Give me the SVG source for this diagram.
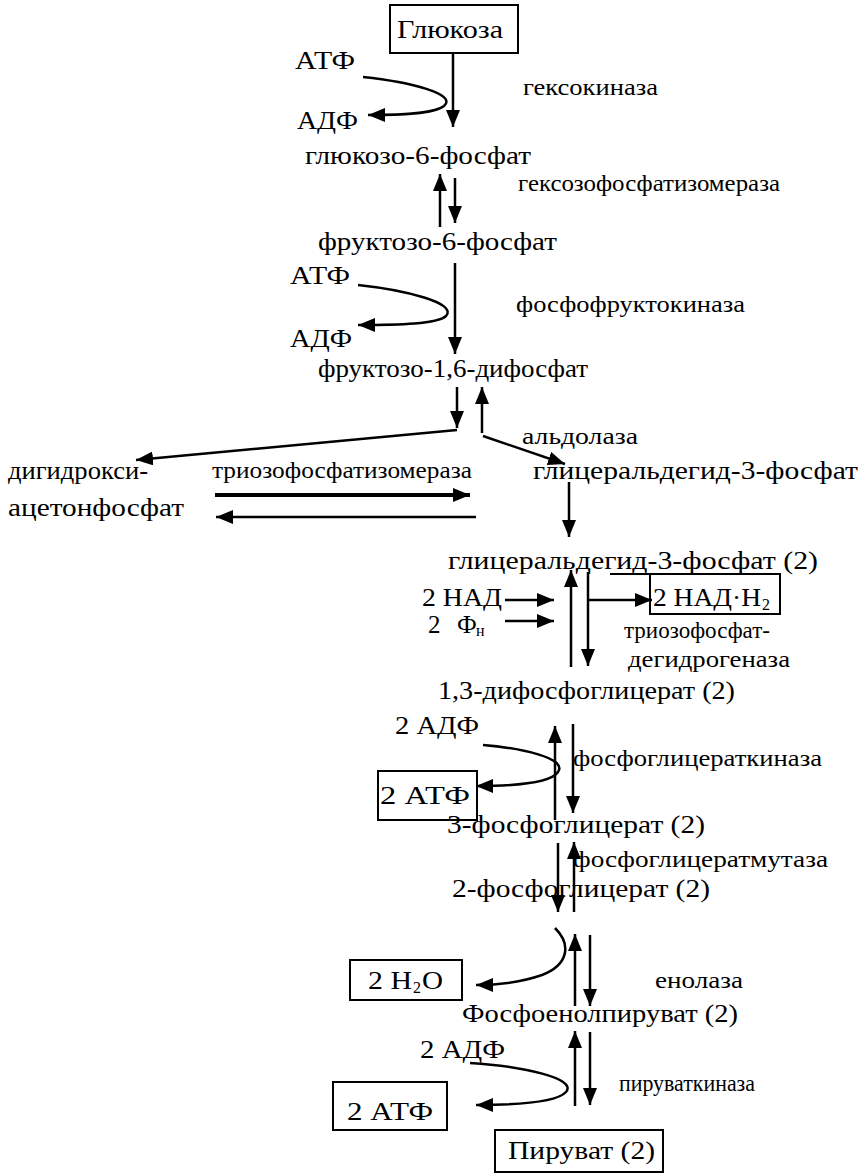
<svg xmlns="http://www.w3.org/2000/svg" width="866" height="1176" viewBox="0 0 866 1176" font-family="'Liberation Serif', 'DejaVu Serif', serif">
<defs>
<marker id="ah" markerUnits="userSpaceOnUse" markerWidth="18" markerHeight="14" refX="17" refY="7" orient="auto">
<path d="M0,0 L17,7 L0,14 z" fill="#000"/>
</marker>
<style>
text{font-family:'Liberation Serif','DejaVu Serif',serif;font-size:25px;fill:#000}
.e{font-size:23px}
.sub{font-size:16px}
.box{fill:none;stroke:#000;stroke-width:2}
.c line,.c path{stroke:#000;stroke-width:2.5;fill:none;marker-end:url(#ah)}
.c .thick{stroke-width:4}
.c .plain{marker-end:none}
</style>
</defs>
<rect width="866" height="1176" fill="#fff"/>

<g id="connectors" class="c">
<line x1="453" y1="53" x2="453" y2="127"/>
<path d="M363,77 C410,82 458,94 444,106 C434,114 400,115 368,115"/>
<line x1="440" y1="227" x2="440" y2="174"/>
<line x1="455" y1="178" x2="455" y2="223"/>
<line x1="455" y1="263" x2="455" y2="354"/>
<path d="M358,285 C405,290 458,303 446,316 C437,324 400,325 358,325"/>
<line x1="457" y1="387" x2="457" y2="428"/>
<line x1="482" y1="433" x2="482" y2="387"/>
<line x1="457" y1="430" x2="136" y2="460"/>
<line x1="483" y1="436" x2="565" y2="464"/>
<line class="thick" x1="215" y1="495" x2="470" y2="495"/>
<line x1="476" y1="517" x2="216" y2="517"/>
<line x1="569" y1="482" x2="569" y2="537"/>
<line x1="505" y1="600" x2="554" y2="600"/>
<line x1="505" y1="621" x2="554" y2="621"/>
<line x1="571" y1="667" x2="571" y2="570"/>
<line x1="588" y1="572" x2="588" y2="666"/>
<line x1="588" y1="600" x2="652" y2="600"/>
<line class="plain" x1="610" y1="574" x2="652" y2="574" style="stroke-width:2"/>
<line x1="555" y1="820" x2="555" y2="726"/>
<line x1="573" y1="724" x2="573" y2="813"/>
<path d="M483,745 C520,748 568,758 558,772 C550,784 510,786 476,786"/>
<line x1="558" y1="843" x2="558" y2="912"/>
<line x1="574" y1="912" x2="574" y2="842"/>
<line x1="575" y1="1006" x2="575" y2="934"/>
<line x1="590" y1="935" x2="590" y2="1006"/>
<path d="M555,928 C572,945 568,965 542,975 C522,982 500,985 476,985"/>
<line x1="575" y1="1106" x2="575" y2="1031"/>
<line x1="590" y1="1032" x2="590" y2="1105"/>
<path d="M470,1063 C520,1066 578,1078 566,1092 C556,1103 515,1105 476,1105"/>
</g>

<g id="glucose"><rect class="box" x="390" y="5" width="128" height="48"/><text x="397" y="38" textLength="106" lengthAdjust="spacingAndGlyphs" style="font-size:26px">Глюкоза</text></g>
<g id="atf1"><text x="295" y="69" textLength="60" lengthAdjust="spacingAndGlyphs">АТФ</text></g>
<g id="hexokinase"><text class="e" x="523" y="95" textLength="135" lengthAdjust="spacingAndGlyphs">гексокиназа</text></g>
<g id="adf1"><text x="297" y="129" textLength="61" lengthAdjust="spacingAndGlyphs">АДФ</text></g>
<g id="g6p"><text x="305" y="164" textLength="226" lengthAdjust="spacingAndGlyphs">глюкозо-6-фосфат</text></g>
<g id="gpi"><text class="e" x="518" y="191" textLength="262" lengthAdjust="spacingAndGlyphs">гексозофосфатизомераза</text></g>
<g id="f6p"><text x="318" y="250" textLength="239" lengthAdjust="spacingAndGlyphs">фруктозо-6-фосфат</text></g>
<g id="atf2"><text x="290" y="284" textLength="60" lengthAdjust="spacingAndGlyphs">АТФ</text></g>
<g id="pfk"><text class="e" x="516" y="312" textLength="229" lengthAdjust="spacingAndGlyphs">фосфофруктокиназа</text></g>
<g id="adf2"><text x="290" y="347" textLength="62" lengthAdjust="spacingAndGlyphs">АДФ</text></g>
<g id="f16bp"><text x="318" y="377" textLength="270" lengthAdjust="spacingAndGlyphs">фруктозо-1,6-дифосфат</text></g>
<g id="aldolase"><text class="e" x="522" y="444" textLength="116" lengthAdjust="spacingAndGlyphs">альдолаза</text></g>
<g id="dhap"><text x="8" y="479" textLength="140" lengthAdjust="spacingAndGlyphs">дигидрокси-</text><text x="8" y="516" textLength="176" lengthAdjust="spacingAndGlyphs">ацетонфосфат</text></g>
<g id="tpi"><text class="e" x="212" y="478" textLength="260" lengthAdjust="spacingAndGlyphs">триозофосфатизомераза</text></g>
<g id="g3p"><text x="533" y="479" textLength="325" lengthAdjust="spacingAndGlyphs">глицеральдегид-3-фосфат</text></g>
<g id="g3p2"><text x="448" y="569" textLength="370" lengthAdjust="spacingAndGlyphs">глицеральдегид-3-фосфат  (2)</text></g>
<g id="nad"><text x="422" y="606" textLength="80" lengthAdjust="spacingAndGlyphs">2 НАД</text></g>
<g id="pi"><text x="428" y="633">2</text><text x="457" y="633">Ф</text><text class="sub" x="476" y="636">н</text></g>
<g id="nadh"><rect class="box" x="650" y="574" width="130" height="40"/><text x="653" y="606" textLength="108" lengthAdjust="spacingAndGlyphs">2 НАД·Н</text><text class="sub" x="762" y="610">2</text></g>
<g id="gapdh"><text class="e" x="624" y="638" textLength="146" lengthAdjust="spacingAndGlyphs">триозофосфат-</text><text class="e" x="628" y="667" textLength="162" lengthAdjust="spacingAndGlyphs">дегидрогеназа</text></g>
<g id="bpg"><text x="438" y="699" textLength="297" lengthAdjust="spacingAndGlyphs">1,3-дифосфоглицерат (2)</text></g>
<g id="adf3"><text x="395" y="734" textLength="84" lengthAdjust="spacingAndGlyphs">2 АДФ</text></g>
<g id="pgk"><text class="e" x="573" y="766" textLength="249" lengthAdjust="spacingAndGlyphs">фосфоглицераткиназа</text></g>
<g id="atf3"><rect class="box" x="378" y="771" width="99" height="49"/><text x="380" y="804" textLength="90" lengthAdjust="spacingAndGlyphs">2 АТФ</text></g>
<g id="pg3"><text x="447" y="833" textLength="258" lengthAdjust="spacingAndGlyphs">3-фосфоглицерат (2)</text></g>
<g id="pgm"><text class="e" x="573" y="867" textLength="255" lengthAdjust="spacingAndGlyphs">фосфоглицератмутаза</text></g>
<g id="pg2"><text x="452" y="897" textLength="258" lengthAdjust="spacingAndGlyphs">2-фосфоглицерат (2)</text></g>
<g id="h2o"><rect class="box" x="350" y="960" width="112" height="40"/><text x="368" y="989" textLength="44" lengthAdjust="spacingAndGlyphs">2 H</text><text class="sub" x="413" y="993">2</text><text x="422" y="989" textLength="21" lengthAdjust="spacingAndGlyphs">O</text></g>
<g id="enolase"><text class="e" x="655" y="988" textLength="88" lengthAdjust="spacingAndGlyphs">енолаза</text></g>
<g id="pep"><text x="462" y="1022" textLength="276" lengthAdjust="spacingAndGlyphs">Фосфоенолпируват (2)</text></g>
<g id="adf4"><text x="420" y="1058" textLength="85" lengthAdjust="spacingAndGlyphs">2 АДФ</text></g>
<g id="pk"><text class="e" x="619" y="1091" textLength="136" lengthAdjust="spacingAndGlyphs">пируваткиназа</text></g>
<g id="atf4"><rect class="box" x="333" y="1082" width="114" height="48"/><text x="347" y="1120" textLength="86" lengthAdjust="spacingAndGlyphs">2 АТФ</text></g>
<g id="pyruvate"><rect class="box" x="495" y="1130" width="168" height="42"/><text x="508" y="1159" textLength="147" lengthAdjust="spacingAndGlyphs">Пируват (2)</text></g>
</svg>
